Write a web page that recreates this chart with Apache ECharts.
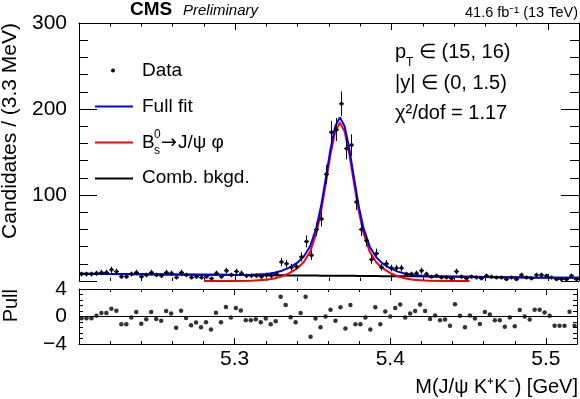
<!DOCTYPE html>
<html><head><meta charset="utf-8">
<script src="https://cdn.jsdelivr.net/npm/echarts@6/dist/echarts.min.js"></script>
<style>html,body{margin:0;padding:0;background:#fff}#c{width:580px;height:399px}</style>
</head><body><div id="c"></div>
<script>
// ---- data ----
const massMin = 5.2, massMax = 5.52, binWidth = 0.0032;
const counts = [8,8,8,9,10,10,13,11,5,5, 8,10,5,7,10,7,6,10,9,4,
  10,7,4,5,4,5,3,9,5,12, 7,11,9,6,6,6,5,7,6,8,
  22,20,16,17,28,46,30,60,72,124, 173,176,206,154,158,92,60,47,25,32,
  16,20,15,15,15,8,8,9,12,8, 5,6,4,4,3,11,5,3,5,4,
  3,6,5,4,4,2,4,2,7,4, 3,7,7,6,4,2,2,2,6,2];
const pulls = [-0.25,-0.25,-0.25,0.1,0.5,0.5,1.14,0.84,-1.14,-1.14,
  -0.15,0.64,-1.04,-0.4,0.64,-0.35,-0.6,0.8,0.45,-1.63,
  0.84,-0.2,-1.28,-0.89,-1.58,-0.84,-1.88,0.54,-0.84,1.38,
  -0.15,1.23,0.89,-0.54,-0.54,-0.4,-0.84,-0.3,-1.14,-0.69,
  2.86,1.68,-0.1,-0.84,0.5,2.86,-2.96,-0.3,-1.58,0,
  0.99,-0.6,1.33,-1.73,1.68,-1.14,-1.14,-0.15,-1.88,1.33,
  -1.14,0.74,0,1.23,1.73,-0.15,0.45,0.8,1.73,0.8,
  -0.35,0.15,-0.54,-0.45,-1.33,1.78,0.1,-1.58,0.15,-0.3,
  -1.09,0.64,0.3,-0.54,-0.54,-1.48,-0.15,-1.43,0.94,0,
  -0.45,0.99,0.99,0.6,0.1,-1.33,-1.33,-1.33,0.69,-1.33];
const fitX = [5.200,5.220,5.240,5.260,5.280,5.290,5.300,5.310,5.320,5.325,
  5.330,5.335,5.340,5.344,5.348,5.352,5.355,5.358,5.361,5.364,
  5.367,5.370,5.373,5.376,5.379,5.382,5.386,5.390,5.394,5.399,
  5.404,5.409,5.414,5.424,5.434,5.450,5.470,5.490,5.520];
const fitSig = [0,0,0,0,0,0,0.04,0.29,1.46,2.94,
  5.4,9.4,15.2,22.4,34.4,56.2,81.5,113.8,147.7,174,
  184,174,147.7,113.8,81.5,56.2,34.4,22.4,15.2,9.4,
  5.4,2.94,1.46,0.29,0.04,0,0,0,0];
const fitBkg = [8.5,8.2,7.9,7.6,7.3,7.2,7.0,6.9,6.7,6.7,
  6.6,6.5,6.4,6.4,6.3,6.3,6.2,6.2,6.2,6.1,
  6.1,6.0,6.0,6.0,5.9,5.9,5.8,5.7,5.6,5.6,
  5.5,5.4,5.4,5.2,5.1,4.8,4.5,4.2,3.8];
const fitFull = [8.5,8.2,7.9,7.6,7.3,7.2,7.04,7.19,8.16,9.64,
  12.0,15.9,21.6,28.8,40.7,62.5,87.7,120.0,153.9,180.1,
  190.1,180.0,153.7,119.8,87.4,62.1,40.2,28.1,20.8,15.0,
  10.9,8.34,6.86,5.49,5.14,4.8,4.5,4.2,3.8];
const sigRange = [5.28, 5.45];
const xTickLabels = ['5.3','5.4','5.5'];
const yTickLabels = ['100','200','300'];
const pullTickLabels = {'-4':'\u22124','0':'0','4':'4'};

// ---- chart ----
const FONT = '"Liberation Sans", Arial, Helvetica, sans-serif';
const centers = counts.map((_, i) => +(massMin + binWidth * (i + 0.5)).toFixed(5));
const tickLine = {color:'#000', width:1};

function xAxis(grid, pos, showLabel, major, minor, showLine) {
  return {type:'value', gridIndex:grid, position:pos, min:massMin, max:massMax, interval:0.1,
    axisLine:{show:showLine, onZero:false, lineStyle:{color:'#000', width:1}},
    axisTick:{show:true, inside:true, length:major, lineStyle:tickLine},
    minorTick:{show:true, splitNumber:5, length:minor, lineStyle:tickLine},
    splitLine:{show:false}, minorSplitLine:{show:false},
    axisLabel:{show:showLabel, margin:5, fontSize:21, fontFamily:FONT, color:'#000',
      formatter: v => { const s = v.toFixed(1); return (xTickLabels.includes(s) && Math.abs(v - parseFloat(s)) < 1e-6) ? s : ''; }}
  };
}
function yAxis(grid, pos, min, max, interval, showLabel, major, minor, fmt) {
  return {type:'value', gridIndex:grid, position:pos, min:min, max:max, interval:interval,
    axisLine:{show:true, onZero:false, lineStyle:{color:'#000', width:1}},
    axisTick:{show:true, inside:true, length:major, lineStyle:tickLine},
    minorTick:{show:true, splitNumber:5, length:minor, lineStyle:tickLine},
    splitLine:{show:false}, minorSplitLine:{show:false},
    axisLabel:{show:showLabel, margin:12, fontSize:21, fontFamily:FONT, color:'#000', formatter:fmt}
  };
}

const chart = echarts.init(document.getElementById('c'), null, {renderer:'canvas'});
const txt = (x, y, text, size, font) => ({type:'text', x:x, y:y, z:100,
  style:{text:text, font:size + 'px ' + (font || FONT), fill:'#000', textVerticalAlign:'middle', verticalAlign:'middle'}});

const option = {
  animation:false,
  backgroundColor:'#fff',
  grid:[
    {left:79, top:23, width:500, height:258},
    {left:79, top:289, width:500, height:55}
  ],
  xAxis:[
    xAxis(0,'bottom',false,7,3.5,false),
    xAxis(0,'top',false,7,3.5,true),
    xAxis(1,'bottom',true,6,3,true),
    xAxis(1,'top',false,6,3,true)
  ],
  yAxis:[
    yAxis(0,'left',0,300,100,true,18,9, v => yTickLabels.includes(String(v)) ? String(v) : ''),
    yAxis(0,'right',0,300,100,false,18,9),
    yAxis(1,'left',-4,4,4,true,8,4, v => pullTickLabels[String(v)] || ''),
    yAxis(1,'right',-4,4,4,false,8,4)
  ],
  series:[
    {type:'line', xAxisIndex:0, yAxisIndex:0, data: fitX.map((x,i)=>[x, fitBkg[i]]),
      showSymbol:false, symbol:'none', lineStyle:{color:'#000', width:2}, z:3, clip:true},
    {type:'line', xAxisIndex:0, yAxisIndex:0,
      data: fitX.map((x,i)=>[x, fitSig[i]]).filter(p => p[0] >= sigRange[0] - 1e-9 && p[0] <= sigRange[1] + 1e-9),
      showSymbol:false, symbol:'none', lineStyle:{color:'#ff0000', width:2}, z:4, clip:true},
    {type:'line', xAxisIndex:0, yAxisIndex:0, data: fitX.map((x,i)=>[x, fitFull[i]]),
      showSymbol:false, symbol:'none', lineStyle:{color:'#0000ff', width:2}, z:5, clip:true},
    {type:'custom', xAxisIndex:0, yAxisIndex:0, z:6,
      data: counts.map((c,i)=>[centers[i], c, Math.sqrt(c)]),
      renderItem:(params, api) => {
        const x = api.value(0), v = api.value(1), e = api.value(2);
        const t = api.coord([x, v + e]), b = api.coord([x, v - e]);
        const l = api.coord([x - binWidth/2, v]), r = api.coord([x + binWidth/2, v]);
        return {type:'group', children:[
          {type:'line', shape:{x1:t[0], y1:t[1], x2:b[0], y2:b[1]}, style:{stroke:'#000', lineWidth:1}},
          {type:'line', shape:{x1:l[0], y1:l[1], x2:r[0], y2:r[1]}, style:{stroke:'#000', lineWidth:1}}
        ]};
      }},
    {type:'scatter', xAxisIndex:0, yAxisIndex:0, data: counts.map((c,i)=>[centers[i], c]),
      symbol:'circle', symbolSize:4, itemStyle:{color:'#000'}, z:7},
    {type:'scatter', xAxisIndex:2, yAxisIndex:2, data: pulls.map((p,i)=>[centers[i], p]),
      symbol:'circle', symbolSize:4.5, itemStyle:{color:'#000'}, z:7,
      markLine:{silent:true, symbol:'none', label:{show:false}, animation:false,
        lineStyle:{color:'#000', width:1, type:'solid'}, data:[{yAxis:0}]}}
  ],
  graphic:[
    {type:'text', x:130, y:10, z:100, style:{text:'CMS', font:'bold 19px ' + FONT, fill:'#000', textVerticalAlign:'middle', verticalAlign:'middle'}},
    {type:'text', x:183, y:11, z:100, style:{text:'Preliminary', font:'italic 15px ' + FONT, fill:'#000', textVerticalAlign:'middle', verticalAlign:'middle'}},
    {type:'text', x:578, y:13, z:100, style:{text:'41.6 fb\u207B\u00B9 (13 TeV)', font:'14.5px ' + FONT, fill:'#000', textAlign:'right', align:'right', textVerticalAlign:'middle', verticalAlign:'middle'}},
    // y titles
    {type:'text', x:10, y:23, rotation:Math.PI/2, z:100,
      style:{text:'Candidates / (3.3 MeV)', font:'21px ' + FONT, fill:'#000', textAlign:'right', align:'right', textVerticalAlign:'middle', verticalAlign:'middle'}},
    {type:'text', x:11, y:289, rotation:Math.PI/2, z:100,
      style:{text:'Pull', font:'20px ' + FONT, fill:'#000', textAlign:'right', align:'right', textVerticalAlign:'middle', verticalAlign:'middle'}},
    // x title
    {type:'text', x:578, y:387, z:100,
      style:{text:'M(J/\u03C8 K\u207AK\u207B) [GeV]', font:'20px ' + FONT, fill:'#000', textAlign:'right', align:'right', textVerticalAlign:'middle', verticalAlign:'middle'}},
    // legend
    {type:'circle', z:100, shape:{cx:113, cy:70.5, r:2}, style:{fill:'#000'}},
    txt(142, 71, 'Data', 19),
    {type:'line', z:100, shape:{x1:95, y1:106.5, x2:133, y2:106.5}, style:{stroke:'#0000ff', lineWidth:2}},
    txt(142, 107, 'Full fit', 19),
    {type:'line', z:100, shape:{x1:95, y1:142.5, x2:133, y2:142.5}, style:{stroke:'#ff0000', lineWidth:2}},
    txt(142, 143, 'B', 19),
    txt(154, 135, '0', 12),
    txt(154, 151, 's', 12),
    txt(161, 143, '\u2192', 19, '"DejaVu Sans", sans-serif'),
    txt(178, 143, 'J/\u03C8 \u03C6', 19),
    {type:'line', z:100, shape:{x1:95, y1:178.5, x2:133, y2:178.5}, style:{stroke:'#000', lineWidth:2}},
    txt(142, 178, 'Comb. bkgd.', 19),
    // annotations
    txt(395, 52, 'p', 20),
    txt(406, 63, 'T', 12),
    txt(419, 52, '\u2208 (15, 16)', 20),
    txt(395, 83, '|y| \u2208 (0, 1.5)', 20),
    txt(395, 113, '\u03C7\u00B2/dof = 1.17', 20)
  ]
};
chart.setOption(option);
</script></body></html>
